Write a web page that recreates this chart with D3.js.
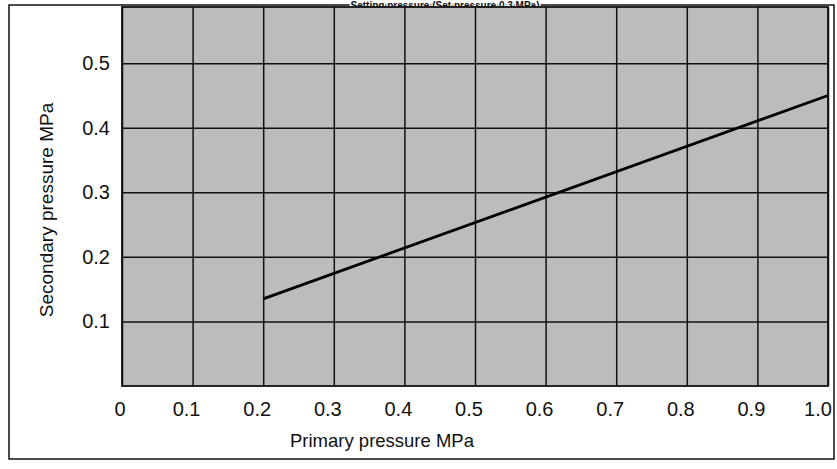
<!DOCTYPE html>
<html>
<head>
<meta charset="utf-8">
<script src="https://cdn.jsdelivr.net/npm/d3@7"></script>
<style>
  html, body { margin: 0; padding: 0; background: #fff; }
  svg { display: block; font-family: "Liberation Sans", Arial, sans-serif; }
</style>
</head>
<body>
<svg id="chart" width="837" height="469"></svg>
<script>
// ---- data ----
const titleText = "Setting pressure (Set pressure 0.3 MPa)";
const xTicks = [0, 0.1, 0.2, 0.3, 0.4, 0.5, 0.6, 0.7, 0.8, 0.9, 1.0];
const xTickLabels = ["0", "0.1", "0.2", "0.3", "0.4", "0.5", "0.6", "0.7", "0.8", "0.9", "1.0"];
const yTicks = [0.1, 0.2, 0.3, 0.4, 0.5];
const yTickLabels = ["0.1", "0.2", "0.3", "0.4", "0.5"];
const primaryPressure = [0.2, 1.0];
const secondaryPressure = [0.135, 0.45];
const xTitle = "Primary pressure  MPa";
const yTitle = "Secondary pressure  MPa";

// ---- layout ----
const svg = d3.select("#chart");
const plot = { left: 122, right: 828, top: 7, bottom: 386 };
const x = d3.scaleLinear().domain([0, 1]).range([plot.left, plot.right]);
const y = d3.scaleLinear().domain([0, 0.587]).range([plot.bottom, plot.top]);

// outer frame
svg.append("rect")
  .attr("x", 9).attr("y", 5).attr("width", 825).attr("height", 454)
  .attr("fill", "none").attr("stroke", "#111").attr("stroke-width", 1.5);

// title (small, above the plot)
svg.append("text")
  .attr("x", 445).attr("y", 9)
  .attr("text-anchor", "middle")
  .attr("font-size", 10).attr("font-weight", "bold")
  .attr("fill", "#111")
  .attr("stroke", "#fff").attr("stroke-width", 3).attr("paint-order", "stroke")
  .text(titleText);

// plot background
svg.append("rect")
  .attr("x", plot.left).attr("y", plot.top)
  .attr("width", plot.right - plot.left).attr("height", plot.bottom - plot.top)
  .attr("fill", "#bcbcbc");

// grid lines via axes
const xGrid = d3.axisBottom(x).tickValues(xTicks).tickSize(-(plot.bottom - plot.top)).tickFormat("");
svg.append("g").attr("transform", `translate(0,${plot.bottom})`).call(xGrid)
  .call(g => g.select(".domain").remove())
  .call(g => g.selectAll("line").attr("stroke", "#111").attr("stroke-width", 1.5));

const yGrid = d3.axisLeft(y).tickValues(yTicks).tickSize(-(plot.right - plot.left)).tickFormat("");
svg.append("g").attr("transform", `translate(${plot.left},0)`).call(yGrid)
  .call(g => g.select(".domain").remove())
  .call(g => g.selectAll("line").attr("stroke", "#111").attr("stroke-width", 1.5));

// plot border
svg.append("rect")
  .attr("x", plot.left).attr("y", plot.top)
  .attr("width", plot.right - plot.left).attr("height", plot.bottom - plot.top)
  .attr("fill", "none").attr("stroke", "#111").attr("stroke-width", 1.8);

// x tick labels
svg.append("g").selectAll("text").data(xTicks).join("text")
  .attr("x", (d, i) => i === 0 ? x(d) - 2 : (i === xTicks.length - 1 ? x(d) - 10 : x(d) - 6))
  .attr("y", 416)
  .attr("text-anchor", "middle")
  .attr("font-size", 20).attr("fill", "#111")
  .text((d, i) => xTickLabels[i]);

// y tick labels
svg.append("g").selectAll("text").data(yTicks).join("text")
  .attr("x", 110)
  .attr("y", d => y(d) + 7)
  .attr("text-anchor", "end")
  .attr("font-size", 20).attr("fill", "#111")
  .text((d, i) => yTickLabels[i]);

// axis titles
svg.append("text")
  .attr("x", 382).attr("y", 447)
  .attr("text-anchor", "middle")
  .attr("font-size", 18.5).attr("fill", "#111")
  .text(xTitle);

svg.append("text")
  .attr("transform", `translate(53,210) rotate(-90)`)
  .attr("text-anchor", "middle")
  .attr("font-size", 19).attr("fill", "#111")
  .text(yTitle);

// data line
const pts = primaryPressure.map((p, i) => [p, secondaryPressure[i]]);
svg.append("path")
  .datum(pts)
  .attr("d", d3.line().x(d => x(d[0])).y(d => y(d[1])))
  .attr("fill", "none").attr("stroke", "#000").attr("stroke-width", 2.8);
</script>
</body>
</html>
